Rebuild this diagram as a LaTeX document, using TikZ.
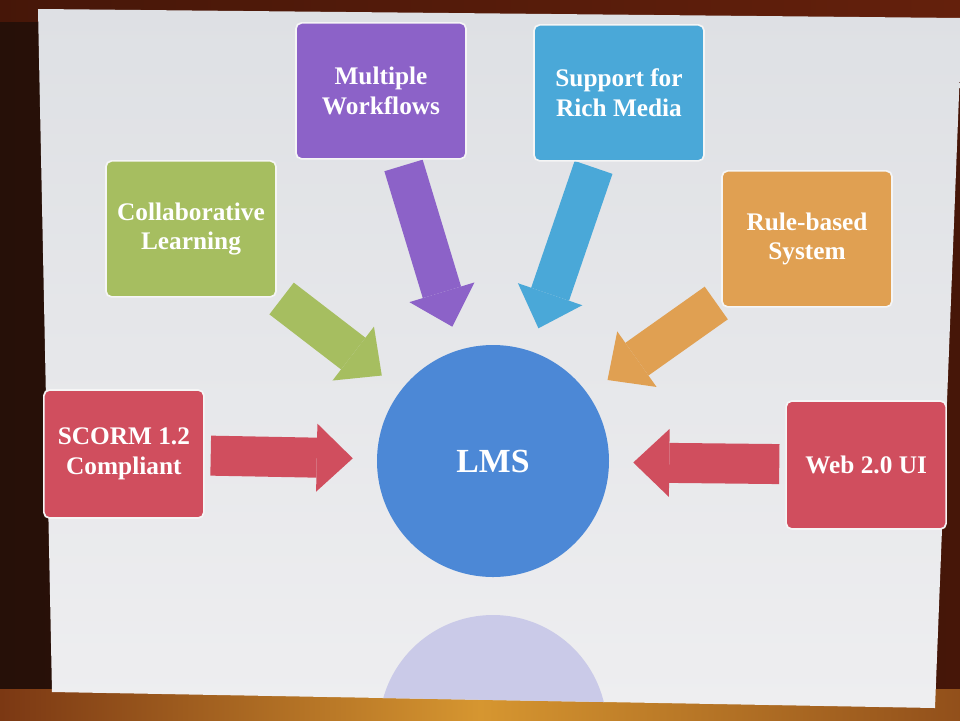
\documentclass[tikz,border=0pt]{standalone}
\usepackage{fontspec}
\setmainfont{Liberation Serif}
\usetikzlibrary{shapes.geometric, arrows.meta, positioning, backgrounds}
\definecolor{lmsblue}{RGB}{76,136,214}
\definecolor{mwpurple}{RGB}{140,98,200}
\definecolor{mediacyan}{RGB}{74,168,216}
\definecolor{collabgreen}{RGB}{166,190,96}
\definecolor{ruleorange}{RGB}{224,160,82}
\definecolor{scormred}{RGB}{208,78,94}
\definecolor{reflectcolor}{RGB}{202,202,232}
\definecolor{slidetop}{RGB}{222,224,228}
\definecolor{slidebottom}{RGB}{238,238,240}
\definecolor{framedark}{RGB}{38,16,8}
\definecolor{framebrown}{RGB}{100,32,12}
\definecolor{framegold}{RGB}{214,150,48}
\pgfdeclarelayer{frame}
\pgfsetlayers{frame,background,main}

\begin{document}
\begin{tikzpicture}[
    box/.style={rectangle, rounded corners=4pt, draw=white!92!gray, line width=1.2pt, minimum width=4.25cm, minimum height=3.4cm, align=center, text=white, font=\bfseries\fontsize{18}{21}\selectfont},
    redbox/.style={box, fill=scormred, minimum width=4cm, minimum height=3.2cm},
    hub/.style={circle, fill=lmsblue, minimum size=5.8cm, inner sep=0pt, text=white, font=\bfseries\fontsize{24}{28}\selectfont},
    blockarrow/.style={line width=1cm, -{Triangle[width=1.7cm, length=0.9cm, line width=0pt]}, shorten <=0.15cm, shorten >=0.6cm},
    node distance=1cm
]
    \useasboundingbox (-12.325,-6.475) rectangle (11.675,11.525);

    % LMS hub
    \node[hub] (lms) {LMS};

    % Features round the hub
    \node[box, fill=mwpurple, above=4.625cm of lms, xshift=-2.8cm] (workflows) {Multiple\\Workflows};
    \node[box, fill=mediacyan, above=4.575cm of lms, xshift=3.15cm] (media) {Support for\\Rich Media};
    \node[box, fill=collabgreen, above=1.175cm of lms, xshift=-7.55cm] (collab) {Collaborative\\Learning};
    \node[box, fill=ruleorange, above=0.925cm of lms, xshift=7.85cm] (rules) {Rule-based\\System};
    \node[redbox, left=4.3cm of lms, yshift=0.175cm] (scorm) {SCORM 1.2\\Compliant};
    \node[redbox, right=4.4cm of lms, yshift=-0.1cm] (web) {Web 2.0 UI};

    % Block arrows into the hub
    \begin{scope}[on background layer]
        \draw[blockarrow, draw=collabgreen, fill=collabgreen] (collab) -- (lms);
        \draw[blockarrow, draw=mwpurple, fill=mwpurple] (workflows) -- (lms);
        \draw[blockarrow, draw=mediacyan, fill=mediacyan] (media) -- (lms);
        \draw[blockarrow, draw=ruleorange, fill=ruleorange] (rules) -- (lms);
        \draw[blockarrow, draw=scormred, fill=scormred] (scorm) -- (lms);
        \draw[blockarrow, draw=scormred, fill=scormred] (web) -- (lms);
    \end{scope}

    % Screen, frame and reflection
    \begin{pgfonlayer}{frame}
        \fill[left color=framedark, right color=framebrown!70!black] (-12.325,-6.475) rectangle (11.675,11.525);
        \fill[left color=framebrown!70!black, right color=framebrown] (-12.325,11.0) rectangle (11.675,11.525);
        \fill[left color=framebrown!80!framegold, right color=framebrown!60!framegold, middle color=framegold] (-12.325,-6.475) rectangle (11.675,-5.7);
        \path[top color=slidetop, bottom color=slidebottom] (-11.375,11.3) -- (11.725,11.075) -- (11.05,-6.175) -- (-11.025,-5.775) -- cycle;
        \begin{scope}
            \clip (-11.375,11.3) -- (11.725,11.075) -- (11.05,-6.175) -- (-11.025,-5.775) -- cycle;
            \fill[reflectcolor] (0,-6.7) circle (2.85cm);
        \end{scope}
    \end{pgfonlayer}

\end{tikzpicture}
\end{document}
